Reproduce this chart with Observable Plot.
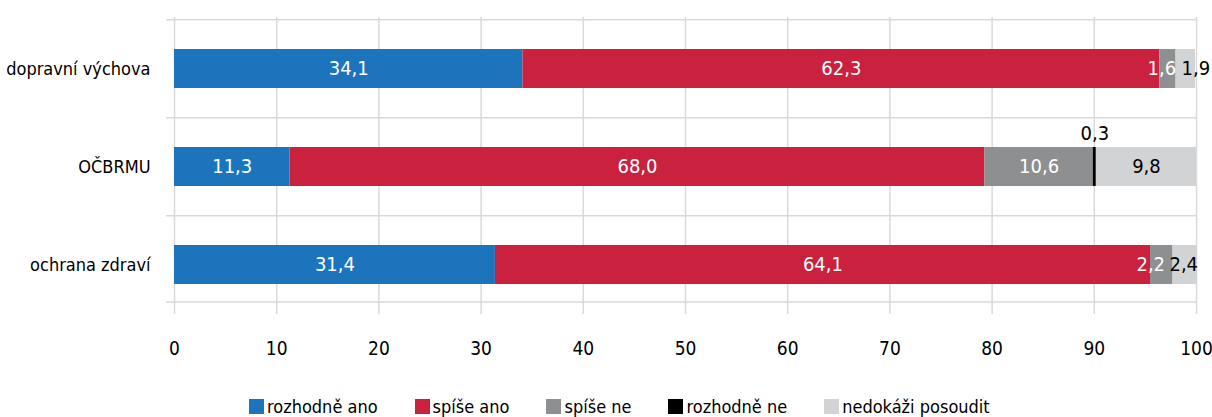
<!DOCTYPE html>
<html><head><meta charset="utf-8">
<script src="https://cdn.jsdelivr.net/npm/d3@7"></script>
<script src="https://cdn.jsdelivr.net/npm/@observablehq/plot@0.6"></script>
<style>
body{margin:0;background:#fff;font-family:"DejaVu Sans Condensed",sans-serif;}
#chart{width:1212px;height:417px;position:relative;overflow:hidden;background:#fff}
#legend{position:absolute;left:249px;top:390px;}
#legend span{margin-right:37px !important;}
#legend span > svg{margin-right:3px !important;}
#plot g[aria-label^="y-axis"]{font-size:18px;}
</style></head><body><div id="chart"><div id="plot"></div><div id="legend"></div></div>
<script>
const categories = ["dopravní výchova", "OČBRMU", "ochrana zdraví"];
const seriesNames = ["rozhodně ano", "spíše ano", "spíše ne", "rozhodně ne", "nedokáži posoudit"];
const rozhodneAno = [34.1, 11.3, 31.4];
const spiseAno = [62.3, 68.0, 64.1];
const spiseNe = [1.6, 10.6, 2.2];
const rozhodneNe = [0, 0.3, 0];
const nedokaziPosoudit = [1.9, 9.8, 2.4];
const xTicks = [0, 10, 20, 30, 40, 50, 60, 70, 80, 90, 100];
const seriesColors = ["#1c75bc", "#c9213e", "#8d8f91", "#000000", "#d1d3d4"];

const seriesValues = [rozhodneAno, spiseAno, spiseNe, rozhodneNe, nedokaziPosoudit];
const table = [];
categories.forEach((cat, i) => {
  seriesNames.forEach((s, j) => table.push({cat, series: s, value: seriesValues[j][i]}));
});

const FONT = '"DejaVu Sans Condensed",sans-serif';
const GRID = "#d9d9d9";
const fmt = v => d3.format(".1f")(v).replace(".", ",");

// label nudges (style only) for crowded small segments
const nudges = {
  "dopravní výchova|spíše ne": -6,
  "dopravní výchova|nedokáži posoudit": 10,
  "ochrana zdraví|spíše ne": -11,
  "ochrana zdraví|nedokáži posoudit": -1.5
};
const key = d => d.cat + "|" + d.series;
const darkText = s => s === "nedokáži posoudit";

function labels(pred, fill, dx = 0, dy = 0) {
  return Plot.text(table, Plot.stackX({
    x: "value", y: "cat", z: "series",
    text: d => (d.value > 0 && pred(d)) ? fmt(d.value) : null,
    fill, dx, dy, fontSize: 20
  }));
}

const W = 1212, H = 375;
const marks = [
  Plot.ruleX(xTicks, {stroke: GRID, strokeWidth: 1.5, insetTop: -2, insetBottom: -11}),
  Plot.ruleY(categories, {y: d => d, dy: -49.25, stroke: GRID, strokeWidth: 1.5, insetLeft: -8}),
  Plot.ruleY([categories[categories.length - 1]], {y: d => d, dy: 37, stroke: GRID, strokeWidth: 1.5, insetLeft: -8}),
  Plot.barX(table, Plot.stackX({x: "value", y: "cat", fill: "series"})),
  labels(d => d.series !== "rozhodně ne" && !darkText(d.series) && !(key(d) in nudges), "white"),
  labels(d => darkText(d.series) && !(key(d) in nudges), "black"),
  labels(d => d.series === "rozhodně ne", "black", 0, -33)
];
for (const [k, dx] of Object.entries(nudges)) {
  const series = k.split("|")[1];
  marks.push(labels(d => key(d) === k, darkText(series) ? "black" : "white", dx));
}

const plot = Plot.plot({
  width: W, height: H,
  marginLeft: 174, marginRight: 16, marginTop: 19, marginBottom: H - 303,
  style: {fontFamily: FONT, fontSize: "19px", color: "#000", background: "#fff", overflow: "visible"},
  x: {domain: [0, 100], ticks: xTicks, tickFormat: d => String(d), tickSize: 0, tickPadding: 38, label: null},
  y: {domain: categories, range: [19, 314.5], paddingInner: 0.6, paddingOuter: 0.3, tickSize: 0, tickPadding: 24, label: null},
  color: {domain: seriesNames, range: seriesColors},
  marks
});
document.getElementById("plot").appendChild(plot);

const legend = Plot.legend({
  color: {domain: seriesNames, range: seriesColors},
  swatchSize: 15,
  style: {fontFamily: FONT, fontSize: "18px", color: "#000"}
});
document.getElementById("legend").appendChild(legend);
</script></body></html>
